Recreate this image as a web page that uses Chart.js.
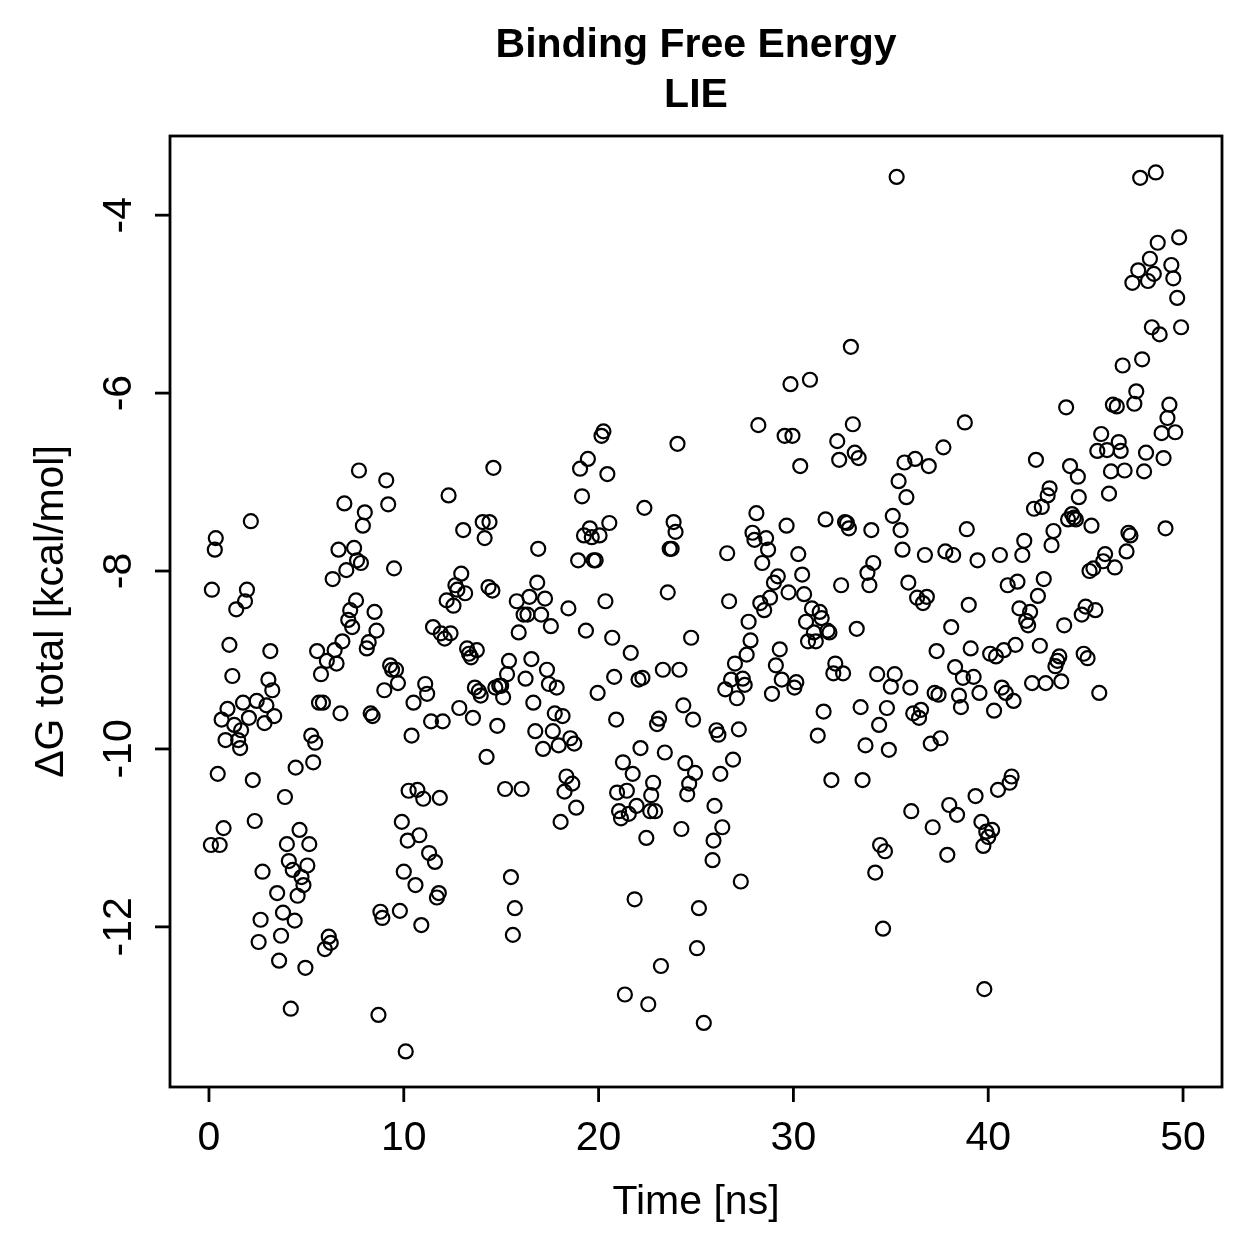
<!DOCTYPE html>
<html>
<head>
<meta charset="utf-8">
<script src="https://cdn.jsdelivr.net/npm/chart.js@4.4.1/dist/chart.umd.min.js"></script>
<style>
  html, body { margin: 0; padding: 0; background: #fff; }
  #wrap { width: 1259px; height: 1259px; }
</style>
</head>
<body>
<div id="wrap"><canvas id="lie"></canvas></div>
<script>
// simulation time (ns) and LIE binding free energy (kcal/mol)
const timeNs = [
  0.1, 0.15, 0.3, 0.35, 0.45, 0.55, 0.65, 0.75, 0.85, 0.95, 1.05, 1.2, 1.3, 1.4, 1.5, 1.6, 1.65, 1.75, 1.85, 1.95,
  2.05, 2.15, 2.25, 2.35, 2.45, 2.55, 2.65, 2.75, 2.85, 2.95, 3.05, 3.15, 3.25, 3.35, 3.5, 3.6, 3.7, 3.8, 3.9, 4.0,
  4.1, 4.2, 4.3, 4.4, 4.45, 4.55, 4.65, 4.75, 4.85, 4.95, 5.05, 5.15, 5.25, 5.35, 5.45, 5.55, 5.65, 5.75, 5.85, 5.95,
  6.05, 6.15, 6.25, 6.35, 6.45, 6.55, 6.65, 6.75, 6.85, 6.95, 7.05, 7.15, 7.25, 7.35, 7.45, 7.55, 7.6, 7.7, 7.8, 7.9,
  8.0, 8.1, 8.2, 8.3, 8.4, 8.5, 8.6, 8.7, 8.8, 8.9, 9.0, 9.1, 9.2, 9.3, 9.4, 9.5, 9.6, 9.7, 9.8, 9.9,
  10.0, 10.1, 10.2, 10.25, 10.4, 10.5, 10.6, 10.7, 10.8, 10.9, 11.0, 11.1, 11.2, 11.3, 11.4, 11.5, 11.6, 11.7, 11.8, 11.85,
  11.9, 12.0, 12.1, 12.2, 12.3, 12.4, 12.55, 12.65, 12.75, 12.85, 12.95, 13.05, 13.15, 13.25, 13.35, 13.45, 13.55, 13.65, 13.75, 13.85,
  13.95, 14.05, 14.15, 14.25, 14.35, 14.4, 14.55, 14.6, 14.7, 14.8, 14.9, 15.0, 15.1, 15.2, 15.3, 15.4, 15.5, 15.6, 15.7, 15.8,
  15.9, 16.05, 16.15, 16.25, 16.35, 16.45, 16.55, 16.65, 16.75, 16.85, 16.9, 17.05, 17.15, 17.25, 17.35, 17.45, 17.55, 17.65, 17.75, 17.85,
  17.95, 18.05, 18.15, 18.25, 18.35, 18.45, 18.55, 18.65, 18.75, 18.85, 18.95, 19.05, 19.15, 19.25, 19.35, 19.45, 19.55, 19.65, 19.75, 19.85,
  19.95, 20.05, 20.15, 20.25, 20.35, 20.45, 20.55, 20.7, 20.8, 20.9, 20.95, 21.05, 21.15, 21.25, 21.35, 21.45, 21.55, 21.65, 21.75, 21.85,
  21.95, 22.05, 22.15, 22.25, 22.35, 22.45, 22.55, 22.65, 22.7, 22.8, 22.9, 23.0, 23.1, 23.2, 23.3, 23.4, 23.55, 23.65, 23.75, 23.85,
  23.95, 24.05, 24.15, 24.25, 24.35, 24.45, 24.55, 24.65, 24.75, 24.85, 24.95, 25.05, 25.15, 25.4, 25.85, 25.9, 25.95, 26.05, 26.15, 26.25,
  26.35, 26.5, 26.6, 26.7, 26.8, 26.9, 27.0, 27.1, 27.2, 27.3, 27.4, 27.5, 27.6, 27.7, 27.8, 27.9, 28.0, 28.1, 28.2, 28.3,
  28.4, 28.5, 28.6, 28.7, 28.8, 28.9, 29.0, 29.1, 29.2, 29.3, 29.4, 29.55, 29.65, 29.75, 29.85, 29.95, 30.05, 30.15, 30.25, 30.35,
  30.45, 30.55, 30.65, 30.75, 30.85, 30.95, 31.05, 31.15, 31.25, 31.35, 31.45, 31.55, 31.65, 31.75, 31.85, 31.95, 32.05, 32.15, 32.25, 32.35,
  32.45, 32.55, 32.65, 32.75, 32.85, 32.95, 33.05, 33.15, 33.25, 33.35, 33.45, 33.55, 33.7, 33.8, 33.9, 34.0, 34.1, 34.2, 34.3, 34.4,
  34.45, 34.6, 34.7, 34.8, 34.9, 35.0, 35.1, 35.2, 35.3, 35.4, 35.5, 35.6, 35.7, 35.8, 35.9, 36.0, 36.05, 36.15, 36.25, 36.35,
  36.45, 36.55, 36.65, 36.75, 36.85, 36.95, 37.05, 37.15, 37.25, 37.35, 37.45, 37.55, 37.7, 37.8, 37.9, 38.0, 38.1, 38.2, 38.3, 38.4,
  38.5, 38.6, 38.7, 38.8, 38.9, 39.0, 39.1, 39.25, 39.35, 39.45, 39.55, 39.65, 39.75, 39.8, 39.9, 40.0, 40.1, 40.2, 40.3, 40.4,
  40.5, 40.6, 40.7, 40.8, 40.9, 41.0, 41.1, 41.2, 41.3, 41.4, 41.5, 41.6, 41.75, 41.85, 41.95, 42.05, 42.15, 42.25, 42.35, 42.45,
  42.55, 42.65, 42.75, 42.85, 42.95, 43.05, 43.15, 43.25, 43.35, 43.45, 43.55, 43.65, 43.75, 43.9, 44.0, 44.1, 44.2, 44.3, 44.4, 44.5,
  44.6, 44.65, 44.8, 44.9, 45.0, 45.1, 45.2, 45.3, 45.4, 45.5, 45.6, 45.7, 45.8, 45.9, 46.0, 46.1, 46.2, 46.3, 46.4, 46.5,
  46.6, 46.7, 46.8, 46.9, 47.0, 47.1, 47.2, 47.3, 47.4, 47.5, 47.6, 47.7, 47.8, 47.9, 48.0, 48.1, 48.2, 48.3, 48.4, 48.5,
  48.6, 48.7, 48.8, 48.9, 49.0, 49.1, 49.2, 49.3, 49.4, 49.5, 49.6, 49.7, 49.8, 49.9
];
const dGTotal = [
  -11.08, -8.21, -7.76, -7.63, -10.28, -11.08, -9.67, -10.89, -9.90, -9.55, -8.83, -9.18, -9.73, -8.43, -9.90, -9.99, -9.79, -9.48, -8.34, -8.21,
  -9.65, -7.44, -10.35, -10.81, -9.46, -12.17, -11.92, -11.38, -9.71, -9.51, -9.22, -8.90, -9.34, -9.63, -11.62, -12.38, -12.10, -11.84, -10.54, -11.07,
  -11.26, -12.92, -11.36, -11.93, -10.21, -11.65, -10.91, -11.44, -11.53, -12.46, -11.31, -11.07, -9.85, -10.15, -9.93, -8.90, -9.48, -9.16, -9.48, -12.25,
  -9.01, -12.11, -12.18, -8.09, -8.89, -9.04, -7.76, -9.60, -8.79, -7.24, -7.99, -8.55, -8.44, -8.63, -7.74, -8.33, -7.88, -6.87, -7.91, -7.49,
  -7.34, -8.87, -8.80, -9.60, -9.63, -8.46, -8.67, -12.99, -11.83, -11.90, -9.34, -6.98, -7.25, -9.06, -9.11, -7.97, -9.11, -9.26, -11.82, -10.82,
  -11.38, -13.40, -11.03, -10.47, -9.85, -9.48, -11.53, -10.46, -10.97, -11.98, -10.56, -9.27, -9.38, -11.17, -9.69, -8.63, -11.27, -11.67, -11.62, -10.55,
  -8.70, -9.69, -8.76, -8.33, -7.15, -8.70, -8.39, -8.16, -8.21, -9.54, -8.03, -7.54, -8.25, -8.87, -8.93, -8.97, -9.65, -9.31, -8.89, -9.35,
  -9.40, -7.45, -7.63, -10.09, -8.18, -7.45, -8.22, -6.84, -9.31, -9.74, -9.29, -9.29, -9.42, -10.45, -9.16, -9.01, -11.44, -12.09, -11.79, -8.34,
  -8.69, -10.45, -8.49, -9.21, -8.49, -8.29, -8.99, -9.48, -9.80, -8.13, -7.75, -8.49, -10.00, -8.31, -9.11, -9.27, -8.62, -9.80, -9.60, -9.31,
  -9.96, -10.82, -9.63, -10.48, -10.31, -8.42, -9.88, -10.39, -9.94, -10.66, -7.88, -6.85, -7.16, -7.60, -8.67, -6.74, -7.52, -7.62, -7.88, -7.88,
  -9.37, -7.60, -6.48, -6.43, -8.34, -6.91, -7.46, -8.75, -9.19, -9.67, -10.49, -10.70, -10.78, -10.15, -12.76, -10.47, -10.73, -8.92, -10.28, -11.69,
  -10.64, -9.22, -9.99, -9.20, -7.29, -11.00, -12.87, -10.70, -10.52, -10.38, -10.70, -9.72, -9.66, -12.44, -9.11, -10.04, -8.24, -7.75, -7.75, -7.45,
  -7.56, -6.57, -9.11, -10.90, -9.51, -10.16, -10.51, -10.39, -8.75, -9.67, -10.27, -12.24, -11.79, -13.08, -11.25, -11.03, -10.64, -9.79, -9.84, -10.28,
  -10.88, -9.33, -7.80, -8.34, -9.22, -10.12, -9.04, -9.43, -9.78, -11.49, -9.21, -9.28, -8.94, -8.57, -8.78, -7.57, -7.65, -7.35, -6.36, -8.36,
  -7.91, -8.44, -7.63, -7.76, -8.30, -9.38, -8.13, -9.06, -8.06, -8.88, -9.22, -6.48, -7.49, -8.24, -5.90, -6.48, -9.31, -9.25, -7.81, -6.82,
  -8.04, -8.26, -8.57, -8.79, -5.85, -8.42, -8.69, -8.79, -9.85, -8.46, -8.53, -9.58, -7.42, -8.67, -8.69, -10.35, -9.15, -9.04, -6.54, -6.75,
  -8.16, -9.15, -7.45, -7.46, -7.52, -5.48, -6.35, -6.67, -8.65, -6.73, -9.53, -10.35, -9.96, -8.02, -8.16, -7.54, -7.91, -11.39, -9.16, -9.73,
  -11.08, -12.02, -11.15, -9.54, -10.01, -9.30, -7.38, -9.16, -3.57, -6.99, -7.54, -7.76, -6.78, -7.17, -8.13, -9.31, -10.70, -9.60, -6.74, -8.30,
  -9.65, -9.56, -8.36, -7.82, -8.29, -6.82, -9.94, -10.88, -9.37, -8.90, -9.39, -9.88, -6.61, -7.78, -11.19, -10.63, -8.63, -7.82, -9.08, -10.74,
  -9.40, -9.53, -9.20, -6.33, -7.53, -8.38, -8.87, -9.19, -10.53, -7.88, -9.37, -10.82, -11.09, -12.70, -10.93, -10.99, -8.93, -10.91, -9.57, -8.96,
  -10.46, -7.82, -9.31, -8.89, -9.37, -8.16, -10.38, -10.31, -9.46, -8.83, -8.12, -8.42, -7.82, -7.66, -8.56, -8.61, -8.46, -9.26, -7.30, -6.75,
  -8.28, -8.84, -7.28, -8.09, -9.26, -7.15, -7.07, -7.71, -7.55, -9.07, -9.01, -8.96, -9.24, -8.61, -6.16, -7.42, -6.82, -7.36, -7.40, -7.42,
  -6.94, -7.17, -8.49, -8.93, -8.40, -8.98, -8.00, -7.49, -7.97, -8.44, -6.65, -9.37, -6.46, -7.89, -7.81, -6.64, -7.13, -6.88, -6.13, -7.96,
  -6.15, -6.55, -6.65, -5.69, -6.87, -7.78, -7.57, -7.60, -4.76, -6.12, -5.98, -4.62, -3.58, -5.62, -6.88, -6.67, -4.74, -4.49, -5.26, -4.66,
  -3.52, -4.31, -5.34, -6.45, -6.73, -7.52, -6.28, -6.13, -4.56, -4.71, -6.44, -4.93, -4.25, -5.26
];
const xTicks = [0, 10, 20, 30, 40, 50];
const yTicks = [-12, -10, -8, -6, -4];
const titleLines = ['Binding Free Energy', 'LIE'];
const xTitle = 'Time [ns]';
const yTitle = '\u0394G total [kcal/mol]';

const points = timeNs.map((t, i) => ({ x: t, y: dGTotal[i] }));
const FONT = '"Liberation Sans", Arial, Helvetica, sans-serif';

// base-graphics style frame, ticks and labels
const rFrame = {
  id: 'rFrame',
  afterDraw(chart) {
    const ctx = chart.ctx;
    const a = chart.chartArea;
    const xs = chart.scales.x, ys = chart.scales.y;
    ctx.save();
    ctx.strokeStyle = '#000';
    ctx.lineWidth = 2.8;
    ctx.strokeRect(a.left, a.top, a.right - a.left, a.bottom - a.top);

    ctx.fillStyle = '#000';
    ctx.font = '41px ' + FONT;
    ctx.textAlign = 'center';
    ctx.textBaseline = 'middle';
    xTicks.forEach(v => {
      const px = xs.getPixelForValue(v);
      ctx.beginPath();
      ctx.moveTo(px, a.bottom);
      ctx.lineTo(px, a.bottom + 15);
      ctx.stroke();
      ctx.fillText(String(v), px, a.bottom + 52);
    });
    yTicks.forEach(v => {
      const py = ys.getPixelForValue(v);
      ctx.beginPath();
      ctx.moveTo(a.left, py);
      ctx.lineTo(a.left - 15, py);
      ctx.stroke();
      ctx.save();
      ctx.translate(a.left - 50, py);
      ctx.rotate(-Math.PI / 2);
      ctx.fillText(String(v), 0, 0);
      ctx.restore();
    });

    const cx = (a.left + a.right) / 2;
    ctx.fillText(xTitle, cx, a.bottom + 116);
    ctx.save();
    ctx.translate(a.left - 118, (a.top + a.bottom) / 2);
    ctx.rotate(-Math.PI / 2);
    ctx.fillText(yTitle, 0, 0);
    ctx.restore();

    ctx.font = 'bold 41px ' + FONT;
    ctx.fillText(titleLines[0], cx, 46);
    ctx.fillText(titleLines[1], cx, 96);
    ctx.restore();
  }
};

new Chart(document.getElementById('lie'), {
  type: 'scatter',
  data: {
    datasets: [{
      data: points,
      pointStyle: 'circle',
      pointRadius: 7,
      pointBorderWidth: 2.2,
      pointBorderColor: '#000',
      pointBackgroundColor: 'rgba(0,0,0,0)'
    }]
  },
  options: {
    responsive: true,
    maintainAspectRatio: false,
    animation: false,
    events: [],
    layout: { padding: { left: 170, right: 37, top: 136, bottom: 172 } },
    plugins: { legend: { display: false }, title: { display: false }, tooltip: { enabled: false } },
    scales: {
      x: { type: 'linear', display: false, min: -2, max: 52 },
      y: { type: 'linear', display: false, min: -13.80, max: -3.11 }
    }
  },
  plugins: [rFrame]
});
</script>
</body>
</html>
